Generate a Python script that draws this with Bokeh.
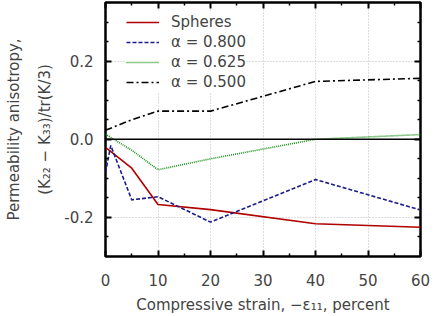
from bokeh.plotting import figure
from bokeh.models import (FixedTicker, NumeralTickFormatter, LinearAxis, Span, Range1d, Legend, LegendItem)
from bokeh.embed import file_html
from bokeh.resources import INLINE

# data
strain_sph = [0, 5, 10, 20, 40, 60]
spheres = [-0.021, -0.074, -0.167, -0.180, -0.216, -0.225]
strain_a800 = [0, 1, 5, 10, 20, 40, 60]
a800 = [-0.085, -0.016, -0.155, -0.147, -0.212, -0.103, -0.181]
strain_a625 = [0, 5, 10, 20, 40, 60]
a625 = [0.013, -0.028, -0.078, -0.050, 0.000, 0.012]
strain_a500 = [0, 5, 10, 20, 40, 60]
a500 = [0.023, 0.050, 0.072, 0.072, 0.148, 0.156]

x_ticks = [0, 10, 20, 30, 40, 50, 60]
x_minor = [5, 15, 25, 35, 45, 55]
y_ticks = [-0.2, 0.0, 0.2]
y_minor = [-0.25, -0.15, -0.1, -0.05, 0.05, 0.1, 0.15, 0.25, 0.3]

FONT = "DejaVu Sans"
FS = "15px"

p = figure(width=434, height=316, output_backend="svg", toolbar_location=None,
           x_range=Range1d(0, 60), y_range=Range1d(-0.3, 0.35),
           min_border_left=105, min_border_right=14, min_border_top=2, min_border_bottom=57)
p.background_fill_color = "white"
p.border_fill_color = "white"
p.outline_line_color = "black"
p.outline_line_width = 2.5

xt = FixedTicker(ticks=x_ticks, minor_ticks=x_minor)
yt = FixedTicker(ticks=y_ticks, minor_ticks=y_minor)

for ax in [p.xaxis[0], p.yaxis[0]]:
    ax.major_tick_in = 6
    ax.major_tick_out = 0
    ax.minor_tick_in = 3
    ax.minor_tick_out = 0
    ax.major_tick_line_width = 2
    ax.minor_tick_line_width = 1.5
    ax.axis_line_color = None
    ax.major_label_text_font = FONT
    ax.major_label_text_font_size = FS
    ax.axis_label_text_font = FONT
    ax.axis_label_text_font_size = FS
    ax.axis_label_text_font_style = "normal"

p.xaxis[0].ticker = xt
p.xaxis[0].major_label_standoff = 17
p.xaxis[0].axis_label = "Compressive strain, \u2212\u03b5\u2081\u2081, percent"
p.xaxis[0].axis_label_standoff = 7

p.yaxis[0].ticker = yt
p.yaxis[0].formatter = NumeralTickFormatter(format="0.0")
p.yaxis[0].major_label_standoff = 12
p.yaxis[0].axis_label = "(K\u2082\u2082 \u2212 K\u2083\u2083)/tr(K/3)"
p.yaxis[0].axis_label_standoff = 7

outer = LinearAxis(ticker=FixedTicker(ticks=[]), axis_label="Permeability anisotropy,",
                   axis_line_color=None, major_tick_line_color=None, minor_tick_line_color=None,
                   axis_label_text_font=FONT, axis_label_text_font_size=FS,
                   axis_label_text_font_style="normal", axis_label_standoff=11,
                   major_label_text_font_size="0px", major_label_text_color=None,
                   major_label_standoff=0)
p.add_layout(outer, "left")

top = LinearAxis(ticker=xt, major_label_text_font_size="0px", major_label_text_color=None,
                 major_label_standoff=0,
                 major_tick_in=6, major_tick_out=0, minor_tick_in=3, minor_tick_out=0,
                 major_tick_line_width=2, minor_tick_line_width=1.5, axis_line_color=None)
p.add_layout(top, "above")
right = LinearAxis(ticker=yt, major_label_text_font_size="0px", major_label_text_color=None,
                   major_label_standoff=0,
                   major_tick_in=6, major_tick_out=0, minor_tick_in=3, minor_tick_out=0,
                   major_tick_line_width=2, minor_tick_line_width=1.5, axis_line_color=None)
p.add_layout(right, "right")

p.xgrid.ticker = xt
p.ygrid.ticker = yt
for g in [p.xgrid[0], p.ygrid[0]]:
    g.grid_line_color = "#bbbbbb"
    g.grid_line_dash = "1 2"
    g.grid_line_width = 1

p.add_layout(Span(location=0, dimension="width", line_color="black", line_width=1.5))

r1 = p.line(strain_sph, spheres, line_color="#b00000", line_width=1.6)
r2 = p.line(strain_a800, a800, line_color="#1c1c8c", line_width=1.6, line_dash="4 2")
r3 = p.line(strain_a625, a625, line_color="#1a921a", line_width=1.6, line_dash="1 1")
r4 = p.line(strain_a500, a500, line_color="black", line_width=1.6, line_dash="7 3 2 3")

legend = Legend(items=[
    LegendItem(label="Spheres", renderers=[r1]),
    LegendItem(label="\u03b1 = 0.800", renderers=[r2]),
    LegendItem(label="\u03b1 = 0.625", renderers=[r3]),
    LegendItem(label="\u03b1 = 0.500", renderers=[r4]),
], location=(21, 164), margin=0, padding=5, spacing=0,
    glyph_width=33, glyph_height=20, label_height=20, label_standoff=12,
    label_text_font=FONT, label_text_font_size=FS,
    border_line_color=None, background_fill_color="white", background_fill_alpha=1.0)
p.add_layout(legend)

open("out.html", "w").write(file_html(p, INLINE))
